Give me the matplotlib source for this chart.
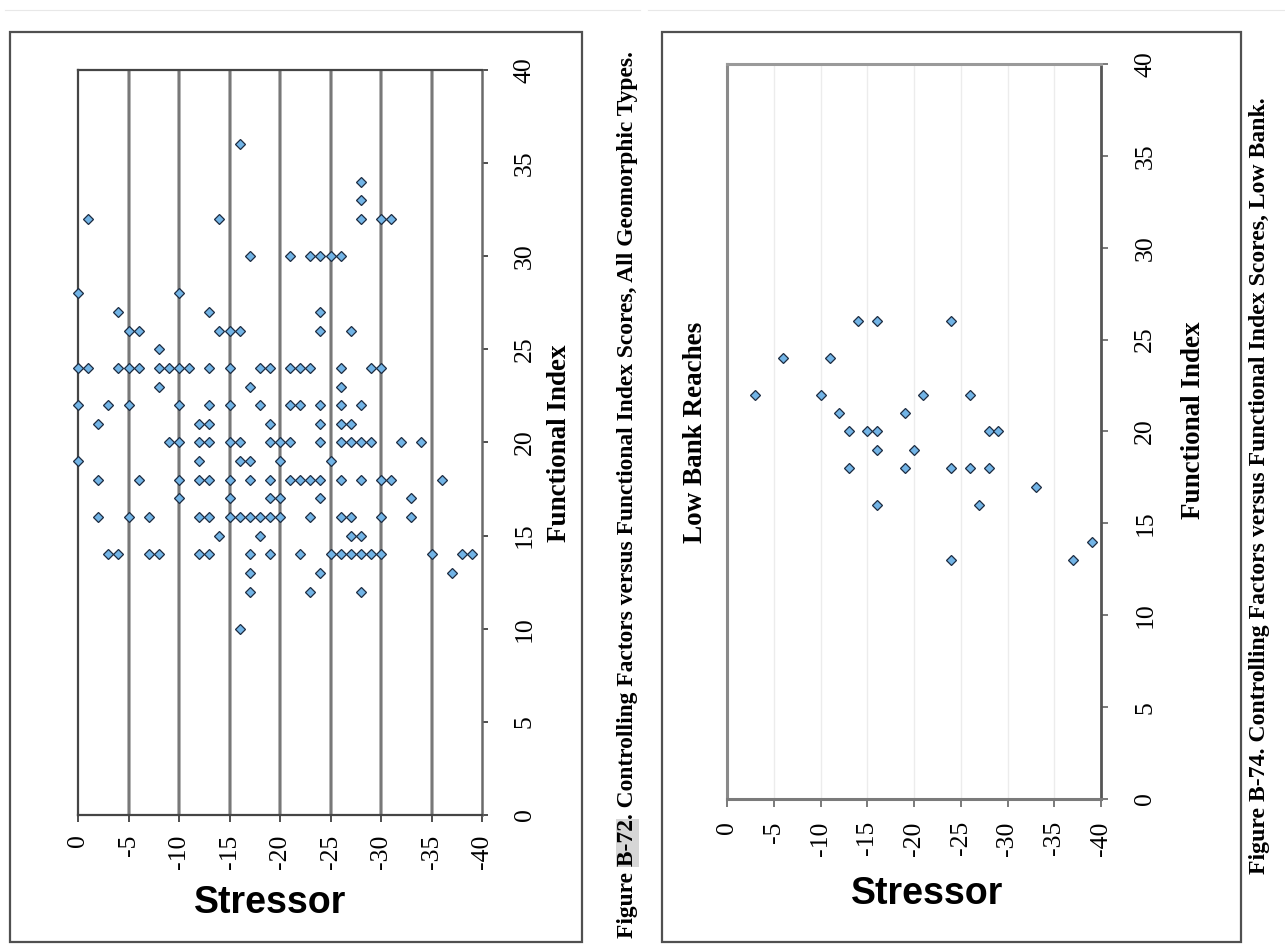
import matplotlib
matplotlib.use("Agg")
import matplotlib.pyplot as plt
from matplotlib.patches import Rectangle
from matplotlib.lines import Line2D

# ---------------- data ----------------
# Figure B-72: all geomorphic types
left_stressor = [
    -16,
    -28,
    -28,
    -1, -14, -28, -30, -31,
    -17, -21, -23, -24, -25, -26,
    0, -10,
    -4, -13, -24,
    -5, -6, -14, -15, -16, -24, -27,
    -8,
    0, -1, -4, -5, -6, -8, -9, -10, -11, -13, -15, -18, -19, -21, -22, -23, -26, -29, -30,
    -8, -17, -26,
    0, -3, -5, -10, -13, -15, -18, -21, -22, -24, -26, -28,
    -2, -12, -13, -19, -24, -26, -27,
    -9, -10, -12, -13, -15, -16, -19, -20, -21, -24, -26, -27, -28, -29, -32, -34,
    0, -12, -16, -17, -20, -25,
    -2, -6, -10, -12, -13, -15, -17, -19, -21, -22, -23, -24, -26, -28, -30, -31, -36,
    -10, -15, -19, -20, -24, -33,
    -2, -5, -7, -12, -13, -15, -16, -17, -18, -19, -20, -23, -26, -27, -30, -33,
    -14, -18, -27, -28,
    -3, -4, -7, -8, -12, -13, -17, -19, -22, -25, -26, -27, -28, -29, -30, -35, -38, -39,
    -17, -24, -37,
    -17, -23, -28,
    -16,
]
left_index = (
    [36] + [34] + [33] + [32] * 5 + [30] * 6 + [28] * 2 + [27] * 3 + [26] * 7 + [25]
    + [24] * 19 + [23] * 3 + [22] * 12 + [21] * 7 + [20] * 16 + [19] * 6 + [18] * 17
    + [17] * 6 + [16] * 16 + [15] * 4 + [14] * 18 + [13] * 3 + [12] * 3 + [10]
)

# Figure B-74: low bank reaches
right_stressor = [-14, -16, -24, -6, -11, -3, -10, -21, -26, -12, -19, -13, -15, -16,
                  -28, -29, -16, -20, -13, -19, -24, -26, -28, -33, -16, -27, -39,
                  -24, -37]
right_index = [26, 26, 26, 24, 24, 22, 22, 22, 22, 21, 21, 20, 20, 20,
               20, 20, 19, 19, 18, 18, 18, 18, 18, 17, 16, 16, 14,
               13, 13]

x_ticks = [0, -5, -10, -15, -20, -25, -30, -35, -40]
y_ticks = [0, 5, 10, 15, 20, 25, 30, 35, 40]
x_tick_labels = [str(v) for v in x_ticks]
y_tick_labels = [str(v) for v in y_ticks]

caption_left = "Figure B-72. Controlling Factors versus Functional Index Scores, All Geomorphic Types."
caption_right = "Figure B-74. Controlling Factors versus Functional Index Scores, Low Bank."
highlight_part = ("Figure ", "B-72")

# ---------------- layout helpers ----------------
W, H = 1285, 947
fig = plt.figure(figsize=(W / 100, H / 100), dpi=100)
fig.patch.set_facecolor("white")

def fx(px):
    return px / W

def fy(py):
    return 1 - py / H

def rect(l, t, r, b):
    return [l / W, 1 - b / H, (r - l) / W, (b - t) / H]

SERIF = ["Liberation Serif", "DejaVu Serif"]
SANS = ["Liberation Sans", "DejaVu Sans"]
MFACE = "#72b4e6"
MEDGE = "#1c2b40"

# page-like faint borders
for (x0, x1) in [(5, 640), (648, 1285)]:
    fig.add_artist(Line2D([fx(x0), fx(x1)], [fy(10), fy(10)], color="#e8e8e8", lw=0.8))
# outer frames
for (l, t, r, b) in [(10, 32, 582, 942), (662, 32, 1241, 942)]:
    fig.add_artist(Rectangle((fx(l), fy(b)), (r - l) / W, (b - t) / H, fill=False,
                             edgecolor="#505050", lw=1.6))

def style_axis(ax, xt_pad, yt_pad, tick_len_x, tick_len_y, tick_col):
    ax.set_xlim(0, -40)
    ax.set_ylim(0, 40)
    ax.set_xticks(x_ticks)
    ax.set_xticklabels(x_tick_labels, rotation=90, fontfamily=SERIF, fontsize=18.5)
    ax.yaxis.tick_right()
    ax.set_yticks(y_ticks)
    ax.set_yticklabels(y_tick_labels, rotation=90, fontfamily=SERIF, fontsize=18.5,
                       va="center")
    ax.tick_params(axis="x", direction="out", length=tick_len_x, width=1.3,
                   color=tick_col, pad=xt_pad)
    ax.tick_params(axis="y", direction="out", length=tick_len_y, width=1.3,
                   color=tick_col, pad=yt_pad)

# ---------------- left panel ----------------
axL = fig.add_axes(rect(78, 70, 482, 815))
style_axis(axL, xt_pad=9, yt_pad=19, tick_len_x=5, tick_len_y=4, tick_col="#404040")
for v in axL.get_xticks()[1:-1]:
    axL.axvline(v, color="#b0b0b0", lw=2.8, zorder=1)
    axL.axvline(v, color="#686868", lw=1.1, zorder=1.1)
for s in ["top", "left", "bottom"]:
    axL.spines[s].set_color("#454545")
    axL.spines[s].set_linewidth(1.6)
axL.spines["right"].set_color("#6a6a6a")
axL.spines["right"].set_linewidth(1.8)
axL.plot(left_stressor, left_index, ls="none", marker="D", ms=5.6, mfc=MFACE,
         mec=MEDGE, mew=0.9, zorder=3, clip_on=False)

# ---------------- right panel ----------------
axR = fig.add_axes(rect(727, 64, 1101, 799))
style_axis(axR, xt_pad=10, yt_pad=19, tick_len_x=6, tick_len_y=5, tick_col="#707070")
for v in axR.get_xticks()[1:-1]:
    axR.axvline(v, color="#ececec", lw=1.0, zorder=1)
axR.spines["left"].set_color("#8a8a8a")
axR.spines["left"].set_linewidth(2.2)
axR.spines["top"].set_color("#9a9a9a")
axR.spines["top"].set_linewidth(2.2)
axR.spines["bottom"].set_color("#7a7a7a")
axR.spines["bottom"].set_linewidth(2.2)
axR.spines["right"].set_color("#555555")
axR.spines["right"].set_linewidth(2.0)
axR.plot(right_stressor, right_index, ls="none", marker="D", ms=5.6, mfc=MFACE,
         mec=MEDGE, mew=0.9, zorder=3, clip_on=False)

# ---------------- texts ----------------
fig.canvas.draw()
renderer = fig.canvas.get_renderer()

def vtext(x, y0, y1, s, family, weight="bold"):
    """Vertical text (bottom-to-top) fitted to span y0 (bottom px) .. y1 (top px)."""
    t = fig.text(fx(x), fy((y0 + y1) / 2), s, rotation=90, ha="center", va="center",
                 fontsize=10, fontfamily=family, fontweight=weight)
    L = t.get_window_extent(renderer).height
    size = 10 * abs(y0 - y1) / L
    t.set_fontsize(size)
    return t, size

# Stressor labels
fig.text(fx(270), fy(903), "Stressor", ha="center", va="center", fontsize=27,
         fontfamily=SANS, fontweight="bold")
fig.text(fx(927), fy(894), "Stressor", ha="center", va="center", fontsize=27,
         fontfamily=SANS, fontweight="bold")

# Functional Index labels
fig.text(fx(559), fy(443), "Functional Index", rotation=90, ha="center", va="center",
         fontsize=19.5, fontfamily=SERIF, fontweight="bold")
fig.text(fx(1194), fy(420), "Functional Index", rotation=90, ha="center", va="center",
         fontsize=19.5, fontfamily=SERIF, fontweight="bold")

# Low Bank Reaches
fig.text(fx(695), fy(432), "Low Bank Reaches", rotation=90, ha="center", va="center",
         fontsize=19.5, fontfamily=SERIF, fontweight="bold")

# captions
capL, sizeL = vtext(627, 940, 50, caption_left, SERIF)
capR, sizeR = vtext(1259, 875, 97, caption_right, SERIF)

# grey highlight behind "B-72" in the left caption
fig.canvas.draw()
bbL = capL.get_window_extent(renderer)
def text_len(s, size):
    t = fig.text(0, 0, s, rotation=90, fontsize=size, fontfamily=SERIF, fontweight="bold")
    L = t.get_window_extent(renderer).height
    t.remove()
    return L
l1 = text_len(highlight_part[0].rstrip() + " B", sizeL) - text_len("B", sizeL)
l2 = text_len(highlight_part[0] + highlight_part[1], sizeL)
y_start = bbL.y0  # display coords, bottom of caption
fig.add_artist(Rectangle(((bbL.x0 - 1) / W, (y_start + l1) / H), (bbL.width + 2) / W,
                         (l2 - l1) / H, facecolor="#d6d6d6", edgecolor="none", zorder=0))

fig.savefig("out.png", dpi=100, facecolor="white")
